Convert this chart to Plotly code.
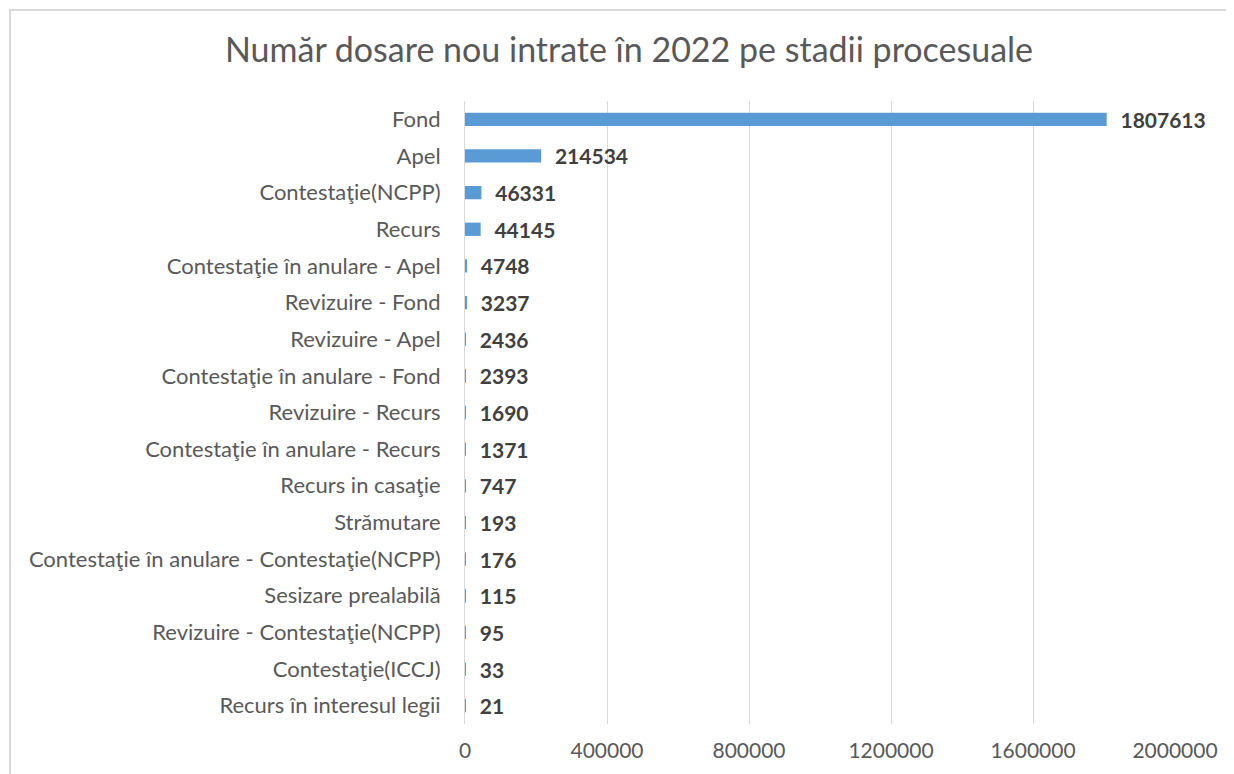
import plotly.graph_objects as go

categories = [
    "Fond", "Apel", "Contestaţie(NCPP)", "Recurs",
    "Contestaţie în anulare - Apel", "Revizuire - Fond", "Revizuire - Apel",
    "Contestaţie în anulare - Fond", "Revizuire - Recurs",
    "Contestaţie în anulare - Recurs", "Recurs in casaţie", "Strămutare",
    "Contestaţie în anulare - Contestaţie(NCPP)", "Sesizare prealabilă",
    "Revizuire - Contestaţie(NCPP)", "Contestaţie(ICCJ)", "Recurs în interesul legii",
]
values = [1807613, 214534, 46331, 44145, 4748, 3237, 2436, 2393, 1690,
          1371, 747, 193, 176, 115, 95, 33, 21]
x_ticks = [0, 400000, 800000, 1200000, 1600000, 2000000]

FONT = "Lato, Carlito, Calibri, sans-serif"

# page body has 8px default margin -> figure drawn offset by 8px
W, H = 1226, 766
L, R, T, B = 457, 59, 93, 50
PW, PH = W - L - R, H - T - B

fig = go.Figure(go.Bar(
    y=categories, x=values, orientation="h",
    marker=dict(color="#5B9BD5", line=dict(width=0)),
    text=[str(v) for v in values], textposition="outside",
    texttemplate="\u00a0\u00a0<b>%{text}</b>",
    textfont=dict(family=FONT, size=21, color="#404040"),
    constraintext="none",
    cliponaxis=False,
))

fig.update_layout(
    width=W, height=H,
    margin=dict(l=L, r=R, t=T, b=B),
    paper_bgcolor="white", plot_bgcolor="white",
    bargap=0.637,
    showlegend=False,
    title=dict(text="Număr dosare nou intrate în 2022 pe stadii procesuale",
               x=621 / W, xanchor="center", y=1 - 42 / H, yanchor="middle",
               font=dict(family=FONT, size=34, color="#595959")),
    xaxis=dict(range=[0, 2000000], tickvals=x_ticks,
               ticktext=[str(t) for t in x_ticks],
               showgrid=True, gridcolor="#D9D9D9", gridwidth=1,
               zeroline=False, showline=False,
               ticks="outside", ticklen=8, tickcolor="rgba(0,0,0,0)",
               tickfont=dict(family=FONT, size=21, color="#595959")),
    yaxis=dict(categoryorder="array", categoryarray=categories,
               autorange="reversed",
               showline=True, linecolor="#D9D9D9", linewidth=1,
               showgrid=False,
               ticks="outside", ticklen=19, tickcolor="rgba(0,0,0,0)",
               tickfont=dict(family=FONT, size=22, color="#595959")),
    shapes=[dict(type="rect", xref="paper", yref="paper",
                 x0=(2 - L) / PW, x1=(1220 - L) / PW,
                 y0=-0.2, y1=1 + (T - 2) / PH,
                 line=dict(color="#D9D9D9", width=2), layer="below")],
)

fig.write_html("out.html")
